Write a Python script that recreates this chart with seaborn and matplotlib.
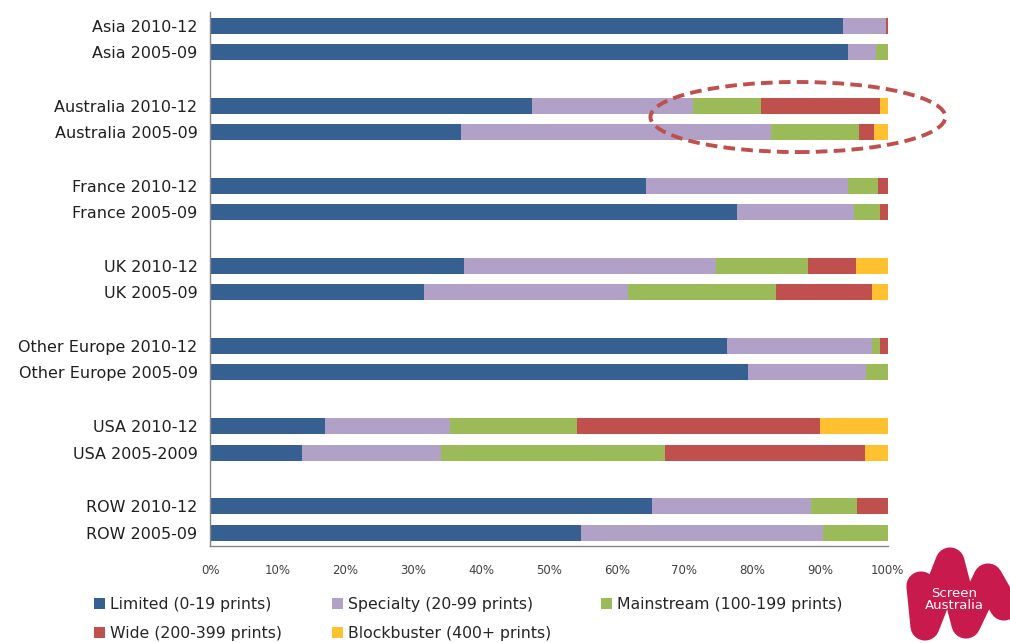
import numpy as np
import pandas as pd
import matplotlib.pyplot as plt
import seaborn as sns
from matplotlib.patches import Patch, Ellipse
from matplotlib.lines import Line2D

rows = ['Asia 2010-12', 'Asia 2005-09', 'Australia 2010-12', 'Australia 2005-09',
        'France 2010-12', 'France 2005-09', 'UK 2010-12', 'UK 2005-09',
        'Other Europe 2010-12', 'Other Europe 2005-09', 'USA 2010-12', 'USA 2005-2009',
        'ROW 2010-12', 'ROW 2005-09']
limited = [93.4, 94.2, 47.5, 37.0, 64.3, 77.8, 37.4, 31.6, 76.3, 79.4, 17.0, 13.5, 65.2, 54.8]
specialty = [6.3, 4.0, 23.8, 45.8, 29.8, 17.2, 37.3, 30.1, 21.3, 17.4, 18.4, 20.6, 23.4, 35.6]
mainstream = [0.0, 1.8, 10.0, 13.0, 4.5, 3.9, 13.6, 21.8, 1.2, 3.2, 18.7, 33.0, 6.8, 9.6]
wide = [0.3, 0.0, 17.5, 2.1, 1.4, 1.1, 7.0, 14.1, 1.2, 0.0, 35.9, 29.5, 4.6, 0.0]
blockbuster = [0.0, 0.0, 1.2, 2.1, 0.0, 0.0, 4.7, 2.4, 0.0, 0.0, 10.0, 3.4, 0.0, 0.0]

series_names = ['Limited (0-19 prints)', 'Specialty (20-99 prints)',
                'Mainstream (100-199 prints)', 'Wide (200-399 prints)',
                'Blockbuster (400+ prints)']
colors = ['#366092', '#B2A1C7', '#9BBB59', '#C0504D', '#FFC12F']

df = pd.DataFrame({'row': rows, 'Limited': limited, 'Specialty': specialty,
                   'Mainstream': mainstream, 'Wide': wide, 'Blockbuster': blockbuster})
cols = ['Limited', 'Specialty', 'Mainstream', 'Wide', 'Blockbuster']
cum = df[cols].cumsum(axis=1)

# blank slots between the country pairs
order = []
for i in range(0, len(rows), 2):
    order += rows[i:i + 2]
    if i < len(rows) - 2:
        order.append(f'gap{i}')

sns.set_style('white')
plt.rcParams['font.family'] = ['DejaVu Sans']

fig = plt.figure(figsize=(10.1, 6.43), dpi=100)
ax = fig.add_axes([0.208, 0.151, 0.671, 0.830])

# stacked bars: draw cumulative totals from the widest down
for k in range(len(cols) - 1, -1, -1):
    tmp = pd.DataFrame({'row': df['row'], 'val': cum[cols[k]]})
    sns.barplot(data=tmp, x='val', y='row', order=order, color=colors[k],
                orient='h', width=0.6, saturation=1, errorbar=None,
                linewidth=0, ax=ax)

ax.set_xlim(0, 100)
ax.set_xticks(np.arange(0, 101, 10))
ax.set_xticklabels([f'{v}%' for v in range(0, 101, 10)], fontsize=8.5, color='#404040')
ax.set_yticks(range(len(order)))
ax.set_yticklabels(['' if o.startswith('gap') else o for o in order],
                   fontsize=11.5, color='#202020')
ax.set_yticks(np.arange(-0.5, len(order), 1), minor=True)
ax.tick_params(axis='y', which='major', length=0, pad=9)
ax.tick_params(axis='y', which='minor', length=5, color='#868686', width=1)
ax.tick_params(axis='x', length=5, color='#868686', width=1, direction='out', pad=8)
ax.set_ylim(len(order) - 0.5, -0.5)
ax.set_xlabel('')
ax.set_ylabel('')
for s in ['top', 'right']:
    ax.spines[s].set_visible(False)
for s in ['left', 'bottom']:
    ax.spines[s].set_color('#868686')
    ax.spines[s].set_linewidth(1)

handles = [Patch(facecolor=c, edgecolor='none') for c in colors]
idx = [0, 3, 1, 4, 2]
fig.legend([handles[i] for i in idx], [series_names[i] for i in idx],
           ncol=3, loc='upper left', bbox_to_anchor=(0.093, 0.071),
           frameon=False, fontsize=11.3, handlelength=0.7, handleheight=0.7,
           handletextpad=0.3, columnspacing=3.2, labelspacing=0.85,
           borderpad=0, borderaxespad=0)

# highlight around Australia
ell = Ellipse((0.790, 0.818), 0.292, 0.109, transform=fig.transFigure,
              fill=False, edgecolor='#C0504D', lw=2.8, linestyle=(0, (3, 1.6)))
fig.add_artist(ell)

# logo: rough wavy W shape with the name on it
W, H = 1010, 643
wx = [921, 925, 950, 966, 988, 1004]
wy = [586, 626, 562, 624, 578, 606]
fig.add_artist(Line2D([x / W for x in wx], [1 - y / H for y in wy], transform=fig.transFigure,
                      color='#C81A4C', lw=21, solid_capstyle='round', solid_joinstyle='round'))
fig.text(0.945, 0.068, 'Screen\nAustralia', color='white', fontsize=9.5,
         ha='center', va='center', linespacing=0.95)

fig.savefig('out.png', dpi=100)
